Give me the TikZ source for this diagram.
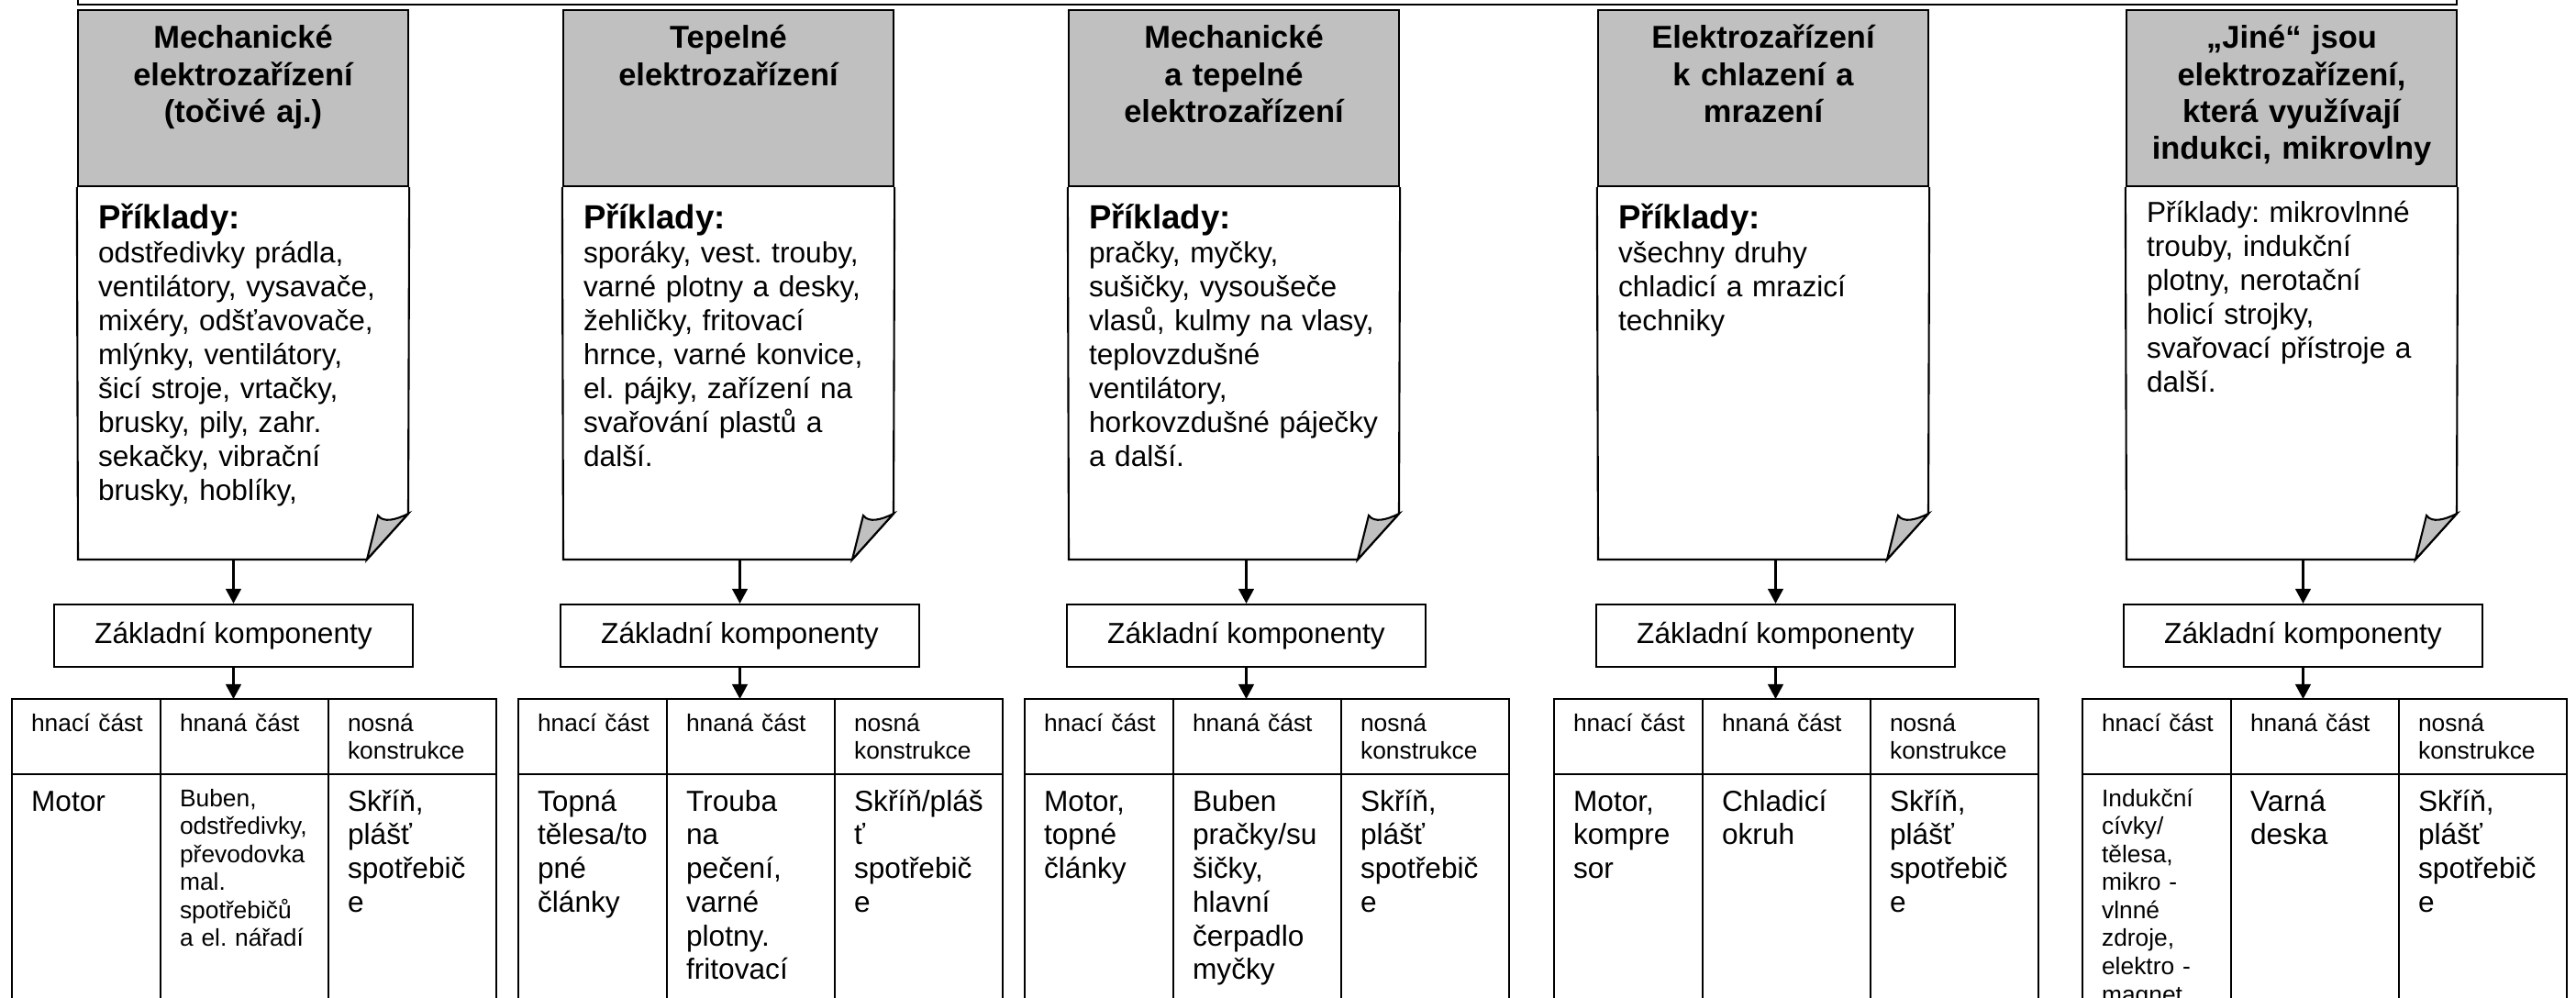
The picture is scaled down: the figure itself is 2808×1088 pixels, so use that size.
\documentclass[tikz,border=0pt]{standalone}
\usepackage{fontspec}
\setmainfont{Liberation Sans}
\usetikzlibrary{arrows.meta}
\definecolor{headgray}{RGB}{192,192,192}
\frenchspacing

\begin{document}
\begin{tikzpicture}[x=0.01cm, y=0.01cm, line width=0.6pt, line join=miter, >={Triangle[length=4.6pt,width=4.8pt]},
  head/.style={draw, fill=headgray, minimum width=3.6cm, minimum height=1.92cm, inner sep=0pt},
  headtext/.style={anchor=base, text width=3.4cm, align=center, inner sep=0pt, font=\fontsize{9.8}{11.4}\selectfont\bfseries},
  bodytext/.style={anchor=base west, text width=3.35cm, align=left, inner sep=0pt, font=\fontsize{9}{10.5}\selectfont},
  compbox/.style={draw, minimum width=3.91cm, minimum height=0.68cm, inner sep=0pt, font=\fontsize{9}{10.5}\selectfont},
  colhead/.style={anchor=base west, text width=1.6cm, align=left, inner sep=0pt, font=\fontsize{7.5}{8.8}\selectfont},
  cell/.style={anchor=base west, text width=1.6cm, align=left, inner sep=0pt, font=\fontsize{9}{10.45}\selectfont},
  smallcell/.style={cell, font=\fontsize{7.5}{8.7}\selectfont},
  fold/.style={draw, fill=headgray}]
\useasboundingbox (0,0) rectangle (2808,-1088);

% Rámeček nahoře
\draw (85,20) -- (85,-5) -- (2678,-5) -- (2678,20);

% 1 -- mechanické elektrozařízení
\node[head] (head1) at (265,-107) {};
\node[headtext] (title1) at (265,-53) {Mechanické\\elektrozařízení\\(točivé aj.)};
\draw (head1.south west) -- (85,-610) -- (400,-610) -- (445,-560) -- (head1.south east);
\draw[fold] (400,-610) -- (412,-562) .. controls (418,-570) and (431,-567) .. (445,-560) -- cycle;
\node[bodytext] (ex1) at (106,-250) {{\fontsize{10.4}{10.5}\selectfont\bfseries Příklady:}\\odstředivky prádla,\\ventilátory, vysavače,\\mixéry, odšťavovače,\\mlýnky, ventilátory,\\šicí stroje, vrtačky,\\brusky, pily, zahr.\\sekačky, vibrační\\brusky, hoblíky,};
\coordinate (card1) at (254.5,-610);
\node[compbox] (comp1) at (254.5,-693) {Základní komponenty};
\coordinate (tab1) at (254.5,-762);
\draw[->] (card1) -- (comp1);
\draw[->] (comp1) -- (tab1);
\draw (13,-1100) rectangle (541,-762) (13,-844) -- (541,-844) (175,-762) -- (175,-1100) (358,-762) -- (358,-1100);
\node[colhead] (drive1) at (33,-797) {hnací část};
\node[colhead] (driven1) at (195,-797) {hnaná část};
\node[colhead] (frame1) at (378,-797) {nosná\\konstrukce};
\node[cell] (drivetx1) at (33,-884) {Motor};
\node[smallcell] (driventx1) at (195,-879) {Buben,\\odstředivky,\\převodovka\\mal.\\spotřebičů\\a el. nářadí};
\node[cell] (frametx1) at (378,-884) {Skříň,\\plášť\\spotřebič\\e};

% 2 -- tepelné elektrozařízení
\node[head] (head2) at (794,-107) {};
\node[headtext] (title2) at (794,-53) {Tepelné\\elektrozařízení};
\draw (head2.south west) -- (614,-610) -- (929,-610) -- (974,-560) -- (head2.south east);
\draw[fold] (929,-610) -- (941,-562) .. controls (947,-570) and (960,-567) .. (974,-560) -- cycle;
\node[bodytext] (ex2) at (635,-250) {{\fontsize{10.4}{10.5}\selectfont\bfseries Příklady:}\\sporáky, vest. trouby,\\varné plotny a desky,\\žehličky, fritovací\\hrnce, varné konvice,\\el. pájky, zařízení na\\svařování plastů a\\další.};
\coordinate (card2) at (806.5,-610);
\node[compbox] (comp2) at (806.5,-693) {Základní komponenty};
\coordinate (tab2) at (806.5,-762);
\draw[->] (card2) -- (comp2);
\draw[->] (comp2) -- (tab2);
\draw (565,-1100) rectangle (1093,-762) (565,-844) -- (1093,-844) (727,-762) -- (727,-1100) (910,-762) -- (910,-1100);
\node[colhead] (drive2) at (585,-797) {hnací část};
\node[colhead] (driven2) at (747,-797) {hnaná část};
\node[colhead] (frame2) at (930,-797) {nosná\\konstrukce};
\node[cell] (drivetx2) at (585,-884) {Topná\\tělesa/to\\pné\\články};
\node[cell] (driventx2) at (747,-884) {Trouba\\na\\pečení,\\varné\\plotny.\\fritovací};
\node[cell] (frametx2) at (930,-884) {Skříň/pláš\\ť\\spotřebič\\e};

% 3 -- mechanické a tepelné
\node[head] (head3) at (1345,-107) {};
\node[headtext] (title3) at (1345,-53) {Mechanické\\a tepelné\\elektrozařízení};
\draw (head3.south west) -- (1165,-610) -- (1480,-610) -- (1525,-560) -- (head3.south east);
\draw[fold] (1480,-610) -- (1492,-562) .. controls (1498,-570) and (1511,-567) .. (1525,-560) -- cycle;
\node[bodytext] (ex3) at (1186,-250) {{\fontsize{10.4}{10.5}\selectfont\bfseries Příklady:}\\pračky, myčky,\\sušičky, vysoušeče\\vlasů, kulmy na vlasy,\\teplovzdušné\\ventilátory,\\horkovzdušné páječky\\a další.};
\coordinate (card3) at (1358.5,-610);
\node[compbox] (comp3) at (1358.5,-693) {Základní komponenty};
\coordinate (tab3) at (1358.5,-762);
\draw[->] (card3) -- (comp3);
\draw[->] (comp3) -- (tab3);
\draw (1117,-1100) rectangle (1645,-762) (1117,-844) -- (1645,-844) (1279,-762) -- (1279,-1100) (1462,-762) -- (1462,-1100);
\node[colhead] (drive3) at (1137,-797) {hnací část};
\node[colhead] (driven3) at (1299,-797) {hnaná část};
\node[colhead] (frame3) at (1482,-797) {nosná\\konstrukce};
\node[cell] (drivetx3) at (1137,-884) {Motor,\\topné\\články};
\node[cell] (driventx3) at (1299,-884) {Buben\\pračky/su\\šičky,\\hlavní\\čerpadlo\\myčky};
\node[cell] (frametx3) at (1482,-884) {Skříň,\\plášť\\spotřebič\\e};

% 4 -- chlazení a mrazení
\node[head] (head4) at (1922,-107) {};
\node[headtext] (title4) at (1922,-53) {Elektrozařízení\\k chlazení a\\mrazení};
\draw (head4.south west) -- (1742,-610) -- (2057,-610) -- (2102,-560) -- (head4.south east);
\draw[fold] (2057,-610) -- (2069,-562) .. controls (2075,-570) and (2088,-567) .. (2102,-560) -- cycle;
\node[bodytext] (ex4) at (1763,-250) {{\fontsize{10.4}{10.5}\selectfont\bfseries Příklady:}\\všechny druhy\\chladicí a mrazicí\\techniky};
\coordinate (card4) at (1935.5,-610);
\node[compbox] (comp4) at (1935.5,-693) {Základní komponenty};
\coordinate (tab4) at (1935.5,-762);
\draw[->] (card4) -- (comp4);
\draw[->] (comp4) -- (tab4);
\draw (1694,-1100) rectangle (2222,-762) (1694,-844) -- (2222,-844) (1856,-762) -- (1856,-1100) (2039,-762) -- (2039,-1100);
\node[colhead] (drive4) at (1714,-797) {hnací část};
\node[colhead] (driven4) at (1876,-797) {hnaná část};
\node[colhead] (frame4) at (2059,-797) {nosná\\konstrukce};
\node[cell] (drivetx4) at (1714,-884) {Motor,\\kompre\\sor};
\node[cell] (driventx4) at (1876,-884) {Chladicí\\okruh};
\node[cell] (frametx4) at (2059,-884) {Skříň,\\plášť\\spotřebič\\e};

% 5 -- jiné (indukce, mikrovlny)
\node[head] (head5) at (2498,-107) {};
\node[headtext] (title5) at (2498,-53) {„Jiné“ jsou\\elektrozařízení,\\která využívají\\indukci, mikrovlny};
\draw (head5.south west) -- (2318,-610) -- (2633,-610) -- (2678,-560) -- (head5.south east);
\draw[fold] (2633,-610) -- (2645,-562) .. controls (2651,-570) and (2664,-567) .. (2678,-560) -- cycle;
\node[bodytext] (ex5) at (2339,-243) {Příklady: mikrovlnné\\trouby, indukční\\plotny, nerotační\\holicí strojky,\\svařovací přístroje a\\další.};
\coordinate (card5) at (2510.5,-610);
\node[compbox] (comp5) at (2510.5,-693) {Základní komponenty};
\coordinate (tab5) at (2510.5,-762);
\draw[->] (card5) -- (comp5);
\draw[->] (comp5) -- (tab5);
\draw (2270,-1100) rectangle (2798,-762) (2270,-844) -- (2798,-844) (2432,-762) -- (2432,-1100) (2615,-762) -- (2615,-1100);
\node[colhead] (drive5) at (2290,-797) {hnací část};
\node[colhead] (driven5) at (2452,-797) {hnaná část};
\node[colhead] (frame5) at (2635,-797) {nosná\\konstrukce};
\node[smallcell] (drivetx5) at (2290,-879) {Indukční\\cívky/\\tělesa,\\mikro -\\vlnné\\zdroje,\\elektro -\\magnet};
\node[cell] (driventx5) at (2452,-884) {Varná\\deska};
\node[cell] (frametx5) at (2635,-884) {Skříň,\\plášť\\spotřebič\\e};
\end{tikzpicture}
\end{document}
